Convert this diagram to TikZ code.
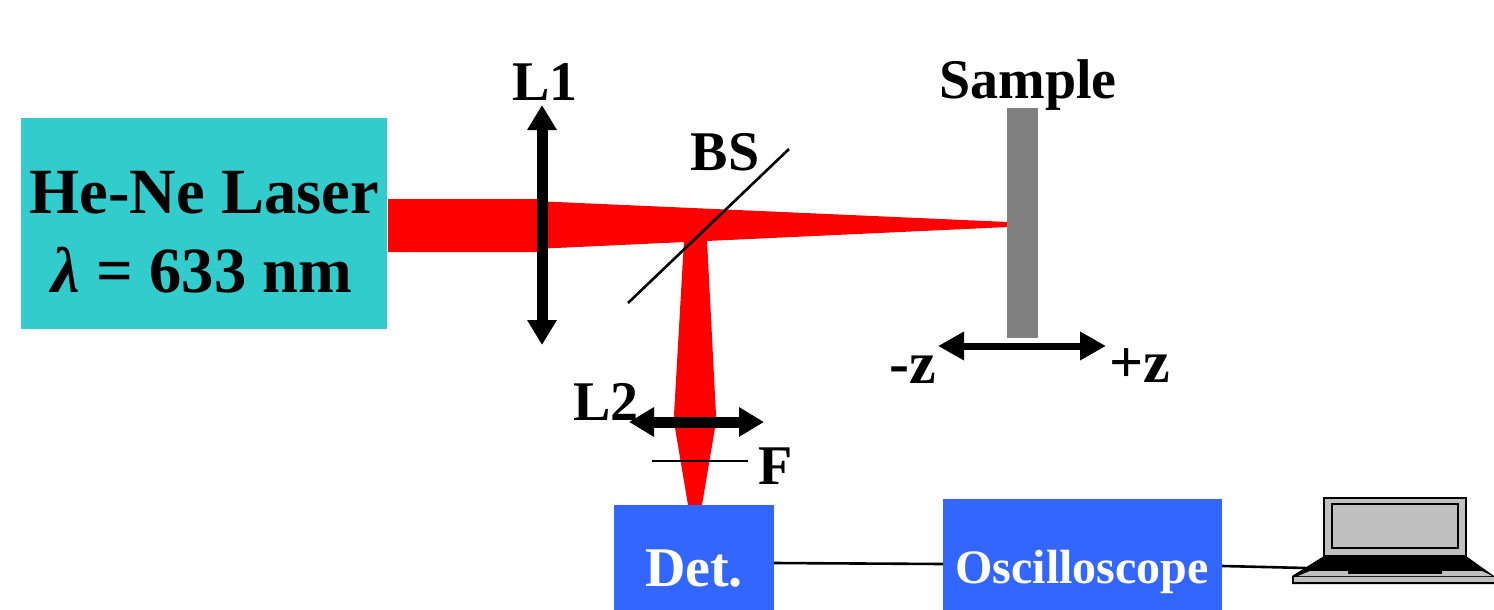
\documentclass[tikz,border=0pt]{standalone}
\usepackage{fontspec}
\setmainfont{Liberation Serif}
\usetikzlibrary{arrows.meta}
\definecolor{lasercol}{HTML}{33CCCC}
\definecolor{boxblue}{HTML}{3366FF}
\definecolor{samplegray}{HTML}{808080}
\definecolor{lapgray}{HTML}{C0C0C0}
\tikzset{
  x=1pt,y=-1pt,
  lbl/.style={font=\fontsize{#1}{#1}\selectfont\bfseries,inner sep=0pt,text=black},
  bluebox/.style={fill=boxblue,draw=none,inner sep=0pt,anchor=north west},
  wire/.style={line width=2.6pt,black},
  lensarrow/.style={line width=11pt,{Triangle[width=28pt,length=25pt]}-{Triangle[width=28pt,length=25pt]}},
  zarrow/.style={line width=7pt,{Triangle[width=27pt,length=26pt]}-{Triangle[width=27pt,length=26pt]}},
  lap/.style={line width=2.4pt,draw=black,fill=lapgray,line join=miter},
}
\begin{document}
\begin{tikzpicture}
\useasboundingbox (0,0) rectangle (1494,610);
% beams
\fill[red] (388,199) -- (540,199) -- (545,201.5) -- (1008,222) -- (1008,227) -- (545,248.5) -- (540,252) -- (388,252) -- cycle;
\fill[red] (684,240) -- (707,240) -- (716,415) -- (716,422) -- (702,505) -- (688,505) -- (674,422) -- (674,415) -- cycle;
% boxes
\node[fill=lasercol,inner sep=0pt,anchor=north west,minimum width=366pt,minimum height=211pt] (laser) at (21,118) {};
\node[lbl=64.5,anchor=center] (lasertext) at (204,193) {He-Ne Laser};
\node[lbl=64.5,anchor=center] (lambda) at (202,270) {{\itshape λ} = 633 nm};
\node[bluebox,minimum width=160pt,minimum height=105pt] (det) at (614,505) {};
\node[lbl=56,text=white,anchor=center] (dettext) at (694,569) {Det.};
\node[bluebox,minimum width=279pt,minimum height=111pt] (osc) at (943,499) {};
\node[lbl=48,text=white,anchor=center] (osctext) at (1082,572) {Oscilloscope};
\node[fill=samplegray,inner sep=0pt,anchor=north west,minimum width=31pt,minimum height=230pt] (sample) at (1007,108) {};
% optics
\coordinate (l1a) at (542,105); \coordinate (l1b) at (542,345);
\draw[lensarrow] (l1a) -- (l1b);
\coordinate (l2a) at (629,422); \coordinate (l2b) at (764,422);
\draw[lensarrow] (l2a) -- (l2b);
\coordinate (zc) at (938,346); \coordinate (zd) at (1106,346);
\draw[zarrow] (zc) -- (zd);
\coordinate (bsa) at (628,303); \coordinate (bsb) at (789,149);
\draw[wire] (bsa) -- (bsb);
\coordinate (fa) at (652,461); \coordinate (fb) at (748,461);
\draw[wire] (fa) -- (fb);
% labels
\node[lbl=56] (l1t) at (545,82) {L1};
\node[lbl=56] (bst) at (725,152) {BS};
\node[lbl=56] (samplet) at (1028,85) {Sample};
\node[lbl=56] (l2t) at (606,402) {L2};
\node[lbl=56] (ft) at (776,466) {F};
\node[lbl=60] (mz) at (913,370) {-z};
\node[lbl=60] (pz) at (1140,366) {+z};
% wires
\coordinate (lapin) at (1306,568);
\draw[wire] (774,563) -- (943,564);
\draw[wire] (1222,566) -- (lapin);
% laptop
\draw[lap] (1324,498) rectangle (1466,556);
\draw[lap] (1332,504) rectangle (1458,548);
\fill[black] (1324,556) -- (1466,556) -- (1494,576) -- (1494,584) -- (1292,584) -- (1292,576) -- cycle;
\fill[lapgray] (1310,571) -- (1348,571) -- (1348,574) -- (1442,574) -- (1442,571) -- (1482,571) -- (1492,576) -- (1298,576) -- cycle;
\fill[lapgray] (1294,577) -- (1494,577) -- (1494,582) -- (1294,582) -- cycle;
\end{tikzpicture}
\end{document}
